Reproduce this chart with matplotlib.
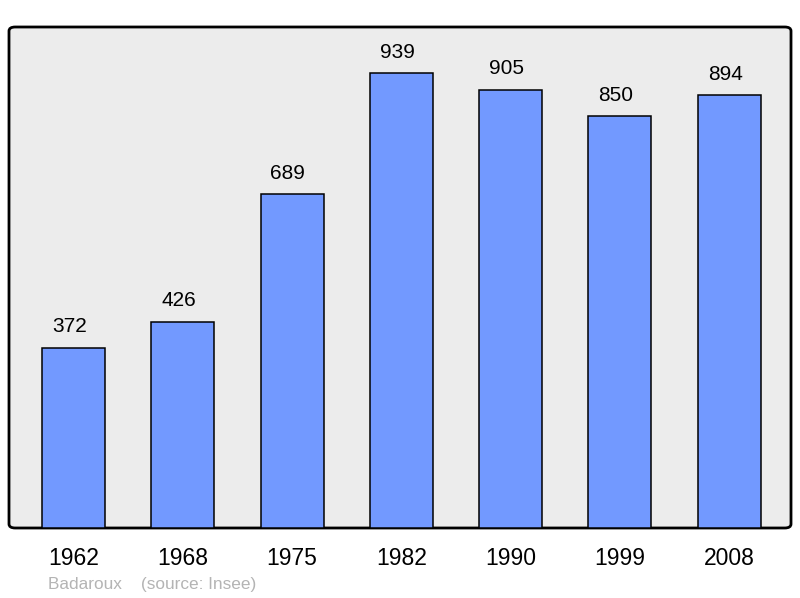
import matplotlib.pyplot as plt
from matplotlib.patches import FancyBboxPatch

years = ["1962", "1968", "1975", "1982", "1990", "1999", "2008"]
population = [372, 426, 689, 939, 905, 850, 894]

plt.rcParams["font.family"] = ["Liberation Sans", "DejaVu Sans"]

fig = plt.figure(figsize=(8, 5.98), dpi=100)
ax = fig.add_axes([9 / 800, 1 - 528 / 598, 782 / 800, 501 / 598])
ax.set_facecolor("none")

# rounded frame behind the bars
frame = FancyBboxPatch((0, 0), 1, 1, boxstyle="round,pad=0,rounding_size=0.008",
                       transform=ax.transAxes, facecolor="#ececec",
                       edgecolor="black", linewidth=2, clip_on=False, zorder=0)
ax.add_patch(frame)

x = list(range(len(years)))
ax.bar(x, population, width=0.576, color="#7299ff", edgecolor="black",
       linewidth=1.1, zorder=2)
for xi, v in zip(x, population):
    ax.annotate(str(v), (xi, v), xytext=(-3, 15), textcoords="offset points",
                ha="center", va="center", fontsize=15)

ax.set_xlim(-0.59, 6.565)
ax.set_ylim(0, 1034)
for s in ax.spines.values():
    s.set_visible(False)
ax.set_yticks([])
ax.set_xticks(x)
ax.set_xticklabels(years, fontsize=16.5)
ax.tick_params(axis="x", length=0, pad=14)

fig.text(48 / 800, 1 - 585 / 598, "Badaroux    (source: Insee)", color="#b4b4b4",
         fontsize=12.4, va="center", ha="left")

fig.savefig("out.png", dpi=100)
